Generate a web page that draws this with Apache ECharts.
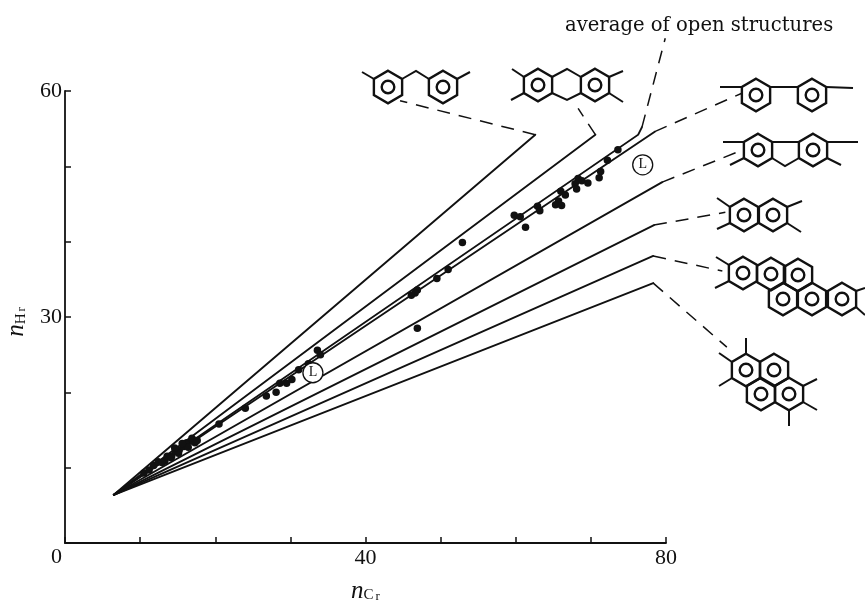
<!DOCTYPE html>
<html><head><meta charset="utf-8">
<style>html,body{margin:0;padding:0;background:#fff}#c{width:865px;height:603px}</style>
<script src="https://cdn.jsdelivr.net/npm/echarts@6/dist/echarts.min.js"></script>
</head><body><div id="c"></div>
<script>
const INK = '#111111';
const FONT = '"Liberation Serif", serif';
const WIDE = '"DejaVu Serif", serif';
const xTickLabels = [40, 80];
const yTickLabels = [30, 60];
const start = [6.5, 6.4];
// solid correlation lines (end points, and the kink of the open-structure average)
const line1 = [start, [62.6, 54.2]];
const line2 = [start, [70.6, 54.2]];
const line3 = [start, [76.3, 54.2], [76.8, 55.2]];
const line4 = [start, [78.5, 54.6]];
const line5 = [start, [79.5, 47.9]];
const line6 = [start, [78.4, 42.2]];
const line7 = [start, [78.3, 38.1]];
const line8 = [start, [78.3, 34.5]];
const solidLines = [line1, line2, line3, line4, line5, line6, line7, line8];
// dashed leaders to the structures
const leader1 = [[62.6, 54.2], [44.6, 58.7]];
const leader2 = [[70.6, 54.2], [68.3, 57.7]];
const leader3 = [[76.8, 55.2], [79.9, 67.0]];
const leader4 = [[78.5, 54.6], [90.1, 59.7]];
const leader5 = [[79.5, 47.9], [89.5, 51.9]];
const leader6 = [[78.4, 42.2], [87.9, 43.9]];
const leader7 = [[78.3, 38.1], [87.5, 36.1]];
const leader8 = [[78.3, 34.5], [88.1, 26.0]];
const leaders = [leader1, leader2, leader3, leader4, leader5, leader6, leader7, leader8];
const measured = [
 [73.6,52.2],[72.2,50.8],[71.3,49.3],[71.1,48.5],[68.3,48.4],[67.9,47.7],[68.8,48.1],[69.6,47.8],
 [68.1,47.0],[66.0,46.7],[66.6,46.2],[65.7,45.4],[65.3,44.9],[66.1,44.8],[62.9,44.7],[63.2,44.1],
 [59.8,43.5],[60.6,43.3],[61.3,41.9],[52.9,39.9],[51.0,36.3],[49.5,35.1],[46.9,33.6],[46.6,33.2],
 [46.1,32.9],[46.9,28.5],[33.6,25.6],[34.0,25.0],[32.4,23.8],[31.1,23.0],[30.2,21.7],[29.5,21.2],
 [28.6,21.2],[28.1,20.0],[26.8,19.5],[24.0,17.9],[20.5,15.8],[17.3,13.3],[16.2,13.3],[15.2,12.3],
 [14.2,11.5],[13.3,10.9],[17.0,13.5],[16.1,13.1],
 [10.5,9.3],[11.2,9.7],[11.8,10.3],[12.4,10.8],[12.9,10.7],[13.6,11.5],[14.1,11.3],[14.7,12.2],
 [15.1,11.9],[15.8,12.8],[16.4,12.7],[16.9,13.9],[17.6,13.6],[15.6,13.2],[14.6,12.6]
];
const lMarks = [[33.0, 22.6], [76.9, 50.2]];

// structure drawings (page pixels): ring centres and bonds
const R = 16.3;
const rings = [
 [388,87],[443,87],
 [538,85],[595,85],
 [756,95],[812,95],
 [758,150],[813,150],
 [744,215],[773,215],
 [743,273],[771,274],[798,275],[783,299],[812,299],[842,299],
 [746,370],[774,370],[761,394],[789,394]
];
const bonds = [
 [[374,79],[362,72]],[[402,79],[416,71],[429,79]],[[457,79],[470,72]],
 [[524,77],[512,69]],[[524,93],[511,100]],[[552,77],[567,69],[581,77]],[[552,93],[567,100],[581,93]],
 [[609,77],[623,71]],[[609,93],[623,102]],
 [[720,87],[742,87]],[[770,87],[798,87]],[[826,87],[853,88]],
 [[723,142],[744,142]],[[772,142],[799,142]],[[827,142],[858,142]],[[772,158],[785,166],[799,158]],
 [[744,158],[730,165]],[[827,158],[841,165]],
 [[730,207],[717,198]],[[730,223],[717,229]],[[787,207],[802,201]],[[787,223],[801,232]],
 [[729,265],[716,257]],[[729,281],[715,288]],[[856,291],[865,288]],[[856,307],[865,315]],
 [[746,354],[746,338]],[[732,362],[719,353]],[[732,378],[719,386]],
 [[803,386],[817,379]],[[803,402],[817,410]],[[789,410],[789,426]]
];

function hexPts(c){
  const p=[];
  for(let i=0;i<6;i++){const a=Math.PI/3*i-Math.PI/2;p.push([c[0]+R*Math.cos(a),c[1]+R*Math.sin(a)]);}
  return p;
}
const drawing=[];
rings.forEach(c=>{
  drawing.push({type:'polygon',shape:{points:hexPts(c)},style:{fill:'none',stroke:INK,lineWidth:2.4}});
  drawing.push({type:'circle',shape:{cx:c[0],cy:c[1],r:6.3},style:{fill:'none',stroke:INK,lineWidth:2.4}});
});
bonds.forEach(b=>drawing.push({type:'polyline',shape:{points:b},style:{fill:'none',stroke:INK,lineWidth:2}}));
drawing.push({type:'text',x:565,y:26,style:{text:'average of open structures',font:'19.6px '+WIDE,fill:INK,textVerticalAlign:'middle'}});
drawing.push({type:'text',x:51,y:557,style:{text:'0',font:'22px '+FONT,fill:INK,textVerticalAlign:'middle'}});

const solidSeries = solidLines.map(d=>({type:'line',data:d,symbol:'none',clip:false,silent:true,z:2,
  lineStyle:{color:INK,width:1.9,cap:'round',join:'miter'}}));
const leaderSeries = {type:'lines',coordinateSystem:'cartesian2d',clip:false,silent:true,z:2,
  data:leaders.map(c=>({coords:c})),
  lineStyle:{color:INK,width:1.5,type:[13,9],opacity:1,curveness:0}};

const subRich={
  n:{fontFamily:FONT,fontStyle:'italic',fontSize:25,color:INK},
  c:{fontFamily:FONT,fontSize:15,color:INK,padding:[8,0,0,0]},
  r:{fontFamily:FONT,fontSize:13,color:INK,padding:[10,0,0,2]}};

const chart = echarts.init(document.getElementById('c'),null,{renderer:'canvas'});
chart.setOption({
  animation:false,
  backgroundColor:'#fff',
  grid:{left:65,right:199,top:91,bottom:60,outerBoundsMode:'none',containLabel:false},
  xAxis:{type:'value',min:0,max:80,interval:10,
    axisLine:{onZero:false,lineStyle:{color:INK,width:1.8}},
    axisTick:{inside:true,length:6,lineStyle:{color:INK,width:1.5}},
    splitLine:{show:false},
    axisLabel:{margin:4,color:INK,fontFamily:FONT,fontSize:22,
      formatter:v=>xTickLabels.includes(v)?String(v):''},
    name:'{n|n}{c|C}{r|r}',nameLocation:'middle',nameGap:36,
    nameTextStyle:{rich:subRich}
  },
  yAxis:{type:'value',min:0,max:60,interval:10,
    axisLine:{onZero:false,lineStyle:{color:INK,width:1.8}},
    axisTick:{inside:true,length:6,lineStyle:{color:INK,width:1.5}},
    splitLine:{show:false},
    axisLabel:{margin:3,color:INK,fontFamily:FONT,fontSize:22,
      formatter:v=>yTickLabels.includes(v)?String(v):''},
    name:'{n|n}{c|H}{r|r}',nameLocation:'middle',nameGap:33,nameRotate:90,
    nameTextStyle:{rich:subRich,padding:[0,10,0,0]}
  },
  graphic:{elements:drawing},
  series:[...solidSeries,leaderSeries,
    {type:'scatter',data:measured,symbol:'circle',symbolSize:7.5,clip:false,silent:true,z:3,itemStyle:{color:INK,opacity:1}},
    {type:'scatter',data:lMarks,symbol:'circle',symbolSize:20,clip:false,silent:true,z:4,
      itemStyle:{color:'#fff',borderColor:INK,borderWidth:1.3,opacity:1},
      label:{show:true,position:'inside',formatter:'L',color:INK,fontFamily:FONT,fontSize:14}}
  ]
});
</script></body></html>
